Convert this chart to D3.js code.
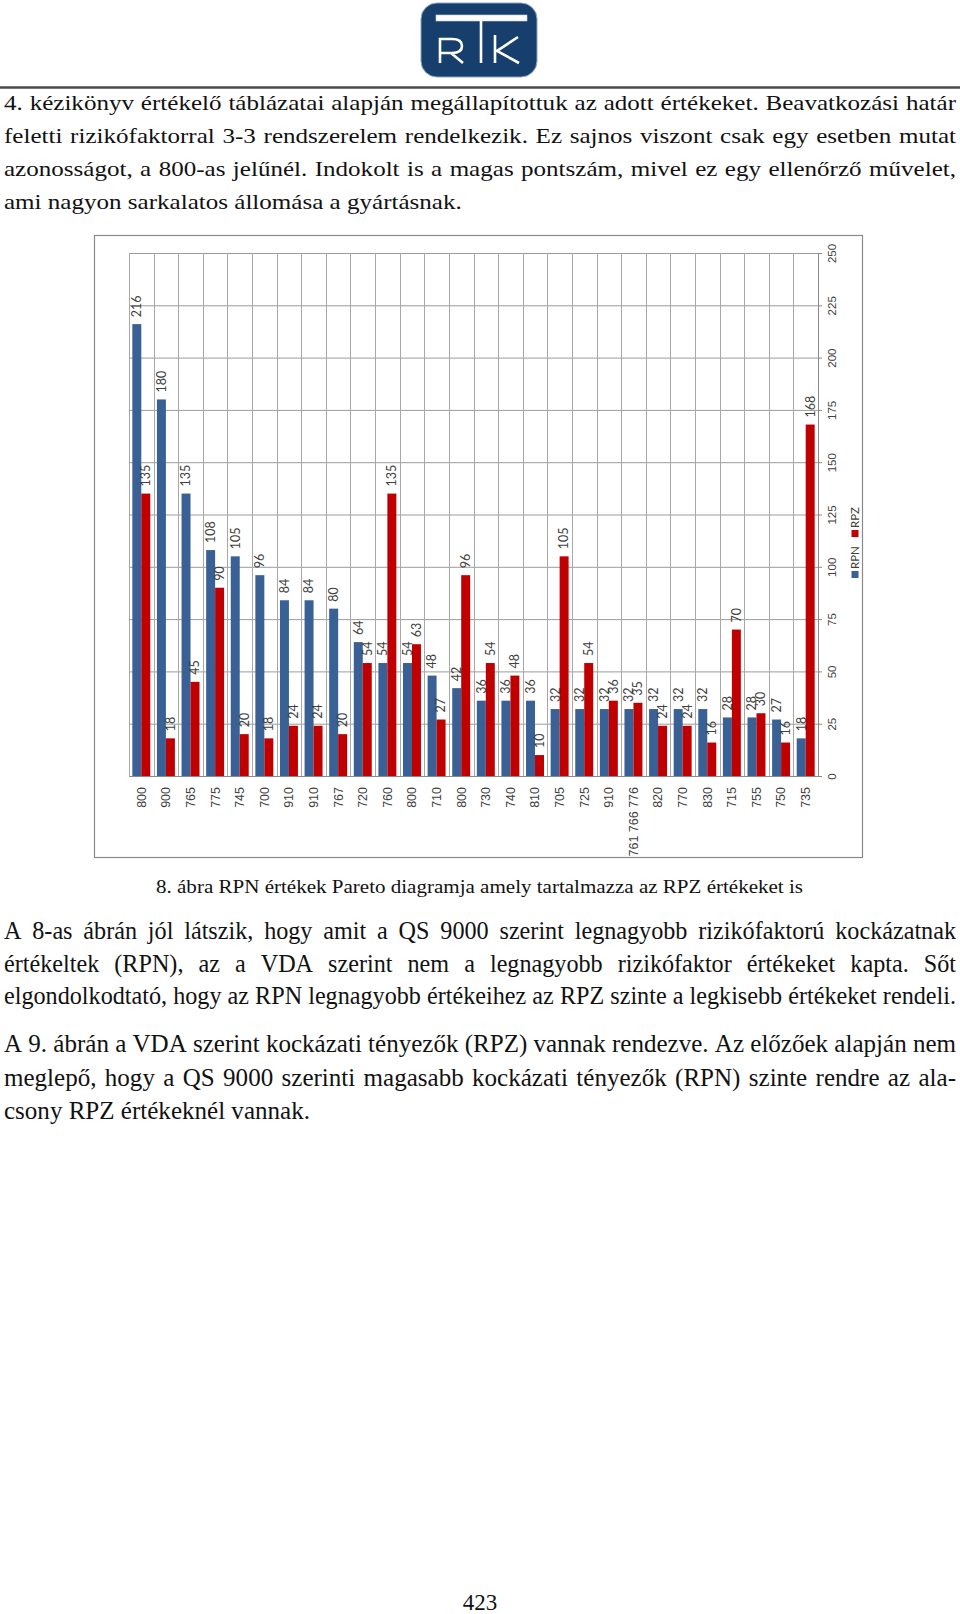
<!DOCTYPE html>
<html>
<head>
<meta charset="utf-8">
<script src="https://cdn.jsdelivr.net/npm/d3@7"></script>
<style>
  body { margin: 0; background: #fff; }
  svg { display: block; }
</style>
</head>
<body>
<svg id="page" width="960" height="1614"></svg>
<script>
// chart data
const categories = ['800','900','765','775','745','700','910','910','767','720','760','800','710','800',
                    '730','740','810','705','725','910','761 766 776','820','770','830','715','755','750','735'];
const rpnValues = [216,180,135,108,105,96,84,84,80,64,54,54,48,42,36,36,36,32,32,32,32,32,32,32,28,28,27,18];
const rpzValues = [135,18,45,90,20,18,24,24,20,54,135,63,27,96,54,48,10,105,54,36,35,24,24,16,70,30,16,168];
const seriesNames = ['RPN', 'RPZ'];
const yTicks = [0, 25, 50, 75, 100, 125, 150, 175, 200, 225, 250];

// page text
const para1 = [
  '4. kézikönyv értékelő táblázatai alapján megállapítottuk az adott értékeket. Beavatkozási határ',
  'feletti rizikófaktorral 3-3 rendszerelem rendelkezik. Ez sajnos viszont csak egy esetben mutat',
  'azonosságot, a 800-as jelűnél. Indokolt is a magas pontszám, mivel ez egy ellenőrző művelet,',
  'ami nagyon sarkalatos állomása a gyártásnak.'
];
const caption = '8. ábra RPN értékek Pareto diagramja amely tartalmazza az RPZ értékeket is';
const para2 = [
  'A 8-as ábrán jól látszik, hogy amit a QS 9000 szerint legnagyobb rizikófaktorú kockázatnak',
  'értékeltek (RPN), az a VDA szerint nem a legnagyobb rizikófaktor értékeket kapta. Sőt',
  'elgondolkodtató, hogy az RPN legnagyobb értékeihez az RPZ szinte a legkisebb értékeket rendeli.'
];
const para3 = [
  'A 9. ábrán a VDA szerint kockázati tényezők (RPZ) vannak rendezve. Az előzőek alapján nem',
  'meglepő, hogy a QS 9000 szerinti magasabb kockázati tényezők (RPN) szinte rendre az ala-',
  'csony RPZ értékeknél vannak.'
];
const pageNumber = '423';

const serif = '"Liberation Serif", "Times New Roman", serif';
const chartFont = 'Lato, "Noto Sans", sans-serif';

const page = d3.select('#page');

// ---- header logo and rule ----
const logo = page.append('g');
logo.append('rect')
  .attr('x', 421).attr('y', 3).attr('width', 116).attr('height', 74).attr('rx', 16)
  .attr('fill', '#163f6e').attr('stroke', '#8fa2ba').attr('stroke-width', 1);
logo.append('rect')
  .attr('x', 436).attr('y', 15).attr('width', 91).attr('height', 6)
  .attr('fill', '#fff').attr('stroke', '#c9d2de').attr('stroke-width', 0.6);
logo.append('path')
  .attr('d', 'M481,21 V63 M440,63 V39 H452 Q462,39 462,46 Q462,53 452,53 H440 M451,53 L463,63 M495,35 V63 M518,37 L497,51 L519,63')
  .attr('fill', 'none').attr('stroke', '#fff').attr('stroke-width', 2.6);

page.append('line')
  .attr('x1', 0).attr('x2', 960).attr('y1', 87.5).attr('y2', 87.5)
  .attr('stroke', '#4a4a4a').attr('stroke-width', 2.5);

// ---- text helpers ----
function naturalWidth(str, size) {
  const t = page.append('text').style('font-family', serif).style('font-size', size + 'px').text(str);
  const w = t.node().getComputedTextLength();
  t.remove();
  return w;
}

function textLine(str, y, opt) {
  const g = page.append('g')
    .attr('transform', `translate(${opt.x0},${y}) scale(${opt.sx},1)`)
    .style('font-family', serif).style('font-size', opt.size + 'px')
    .attr('fill', '#111');
  if (!opt.justify) {
    g.append('text').text(str);
    return;
  }
  const words = str.split(' ');
  const nodes = words.map(w => g.append('text').text(w));
  const widths = nodes.map(n => n.node().getComputedTextLength());
  const gap = ((opt.x1 - opt.x0) / opt.sx - d3.sum(widths)) / (words.length - 1);
  let cx = 0;
  nodes.forEach((n, i) => { n.attr('x', cx); cx += widths[i] + gap; });
}

const left = 4, right = 956;

// paragraph 1
const size1 = 21;
const sx1 = (462 - left) / naturalWidth(para1[3], size1);
[110, 143, 176, 209].forEach((y, i) => {
  textLine(para1[i], y, {x0: left, x1: right, size: size1, sx: sx1, justify: i < 3});
});

// ---- chart ----
const frame = {x: 94, y: 235, w: 768, h: 622};
page.append('rect')
  .attr('x', frame.x + 0.5).attr('y', frame.y + 0.5)
  .attr('width', frame.w).attr('height', frame.h)
  .attr('fill', '#fff').attr('stroke', '#8a8a8a').attr('stroke-width', 1.2);

const plotLeft = 129, plotRight = 818, plotTop = 253, plotBottom = 776;

const x = d3.scaleBand().domain(d3.range(categories.length)).range([plotLeft, plotRight]);
const xSeries = d3.scaleBand().domain(seriesNames).range([0, x.bandwidth()]).paddingOuter(0.37);
const y = d3.scaleLinear().domain([0, 250]).range([plotBottom, plotTop]);
const color = d3.scaleOrdinal().domain(seriesNames).range(['#3a6196', '#c00000']);

const chart = page.append('g').style('font-family', chartFont);

// horizontal grid
const yGrid = chart.append('g')
  .attr('transform', `translate(${plotLeft},0)`)
  .call(d3.axisLeft(y).tickValues(yTicks).tickSize(-(plotRight - plotLeft)).tickFormat(''));
yGrid.select('.domain').remove();
yGrid.selectAll('line').attr('stroke', '#9c9c9c');

// vertical grid at category boundaries
chart.append('g').selectAll('line')
  .data(d3.range(categories.length + 1))
  .join('line')
  .attr('x1', i => Math.round(i < categories.length ? x(i) : plotRight) + 0.5)
  .attr('x2', i => Math.round(i < categories.length ? x(i) : plotRight) + 0.5)
  .attr('y1', plotTop).attr('y2', plotBottom)
  .attr('stroke', '#a8a8a8');

// right value axis
const yAxis = chart.append('g')
  .attr('transform', `translate(${plotRight},0)`)
  .call(d3.axisRight(y).tickValues(yTicks).tickSize(4));
yAxis.select('.domain').attr('stroke', '#8a8a8a');
yAxis.selectAll('line').attr('stroke', '#8a8a8a');
yAxis.selectAll('text')
  .attr('x', 0).attr('y', 14).attr('dy', '0.35em')
  .attr('transform', 'rotate(-90)')
  .style('text-anchor', 'middle')
  .style('font-size', '11.5px')
  .attr('fill', '#404040');

// category axis
const xAxis = chart.append('g')
  .attr('transform', `translate(0,${plotBottom})`)
  .call(d3.axisBottom(x).tickSize(0).tickFormat(i => categories[i]));
xAxis.select('.domain').attr('stroke', '#8a8a8a');
xAxis.selectAll('text')
  .attr('x', -11).attr('y', 0).attr('dy', '0.35em')
  .attr('transform', 'rotate(-90)')
  .style('text-anchor', 'end')
  .style('font-size', '12.5px')
  .attr('fill', '#404040');

// bars
const rows = categories.map((c, i) => ({i, values: [
  {key: 'RPN', value: rpnValues[i]},
  {key: 'RPZ', value: rpzValues[i]}
]}));

const groups = chart.append('g').selectAll('g')
  .data(rows)
  .join('g')
  .attr('transform', d => `translate(${x(d.i)},0)`);

groups.selectAll('rect')
  .data(d => d.values)
  .join('rect')
  .attr('x', d => xSeries(d.key))
  .attr('width', xSeries.bandwidth())
  .attr('y', d => y(d.value))
  .attr('height', d => y(0) - y(d.value))
  .attr('fill', d => color(d.key));

groups.selectAll('text')
  .data(d => d.values)
  .join('text')
  .attr('transform', d => `translate(${xSeries(d.key) + xSeries.bandwidth() / 2},${y(d.value) - 7}) rotate(-90)`)
  .attr('dy', '0.35em')
  .style('font-size', '12.5px')
  .attr('fill', '#404040')
  .text(d => d.value);

// legend
const legend = chart.append('g').attr('transform', 'translate(855,578) rotate(-90)');
const legendItems = legend.selectAll('g')
  .data(seriesNames)
  .join('g')
  .attr('transform', (d, i) => `translate(${i * 41},0)`);
legendItems.append('rect')
  .attr('x', 0).attr('y', -3.5).attr('width', 7).attr('height', 7)
  .attr('fill', d => color(d));
legendItems.append('text')
  .attr('x', 9).attr('dy', '0.35em')
  .style('font-size', '11.5px')
  .attr('fill', '#404040')
  .text(d => d);

// caption
page.append('text')
  .attr('x', 156).attr('y', 893)
  .attr('textLength', 647).attr('lengthAdjust', 'spacingAndGlyphs')
  .style('font-family', serif).style('font-size', '19px')
  .attr('fill', '#111')
  .text(caption);

// paragraphs 2 and 3
const size2 = 25;
const sx2 = (right - left) / naturalWidth(para2[2], size2);
const sx3 = (310 - left) / naturalWidth(para3[2], size2);
[939, 972, 1004].forEach((y, i) => {
  textLine(para2[i], y, {x0: left, x1: right, size: size2, sx: sx2, justify: true});
});
[1052, 1086, 1119].forEach((y, i) => {
  textLine(para3[i], y, {x0: left, x1: right, size: size2, sx: sx3, justify: i < 2});
});

// page number
page.append('text')
  .attr('x', 480).attr('y', 1610)
  .style('font-family', serif).style('font-size', '23px')
  .style('text-anchor', 'middle')
  .attr('fill', '#111')
  .text(pageNumber);
</script>
</body>
</html>
